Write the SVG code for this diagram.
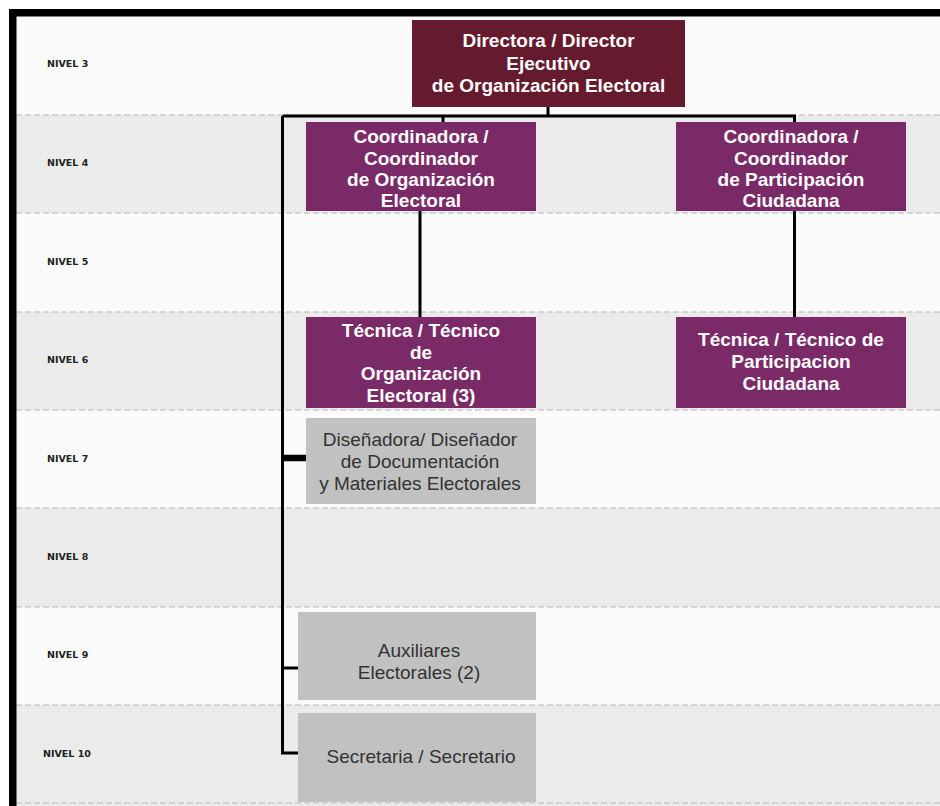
<svg xmlns="http://www.w3.org/2000/svg" width="940" height="806" viewBox="0 0 940 806">
<style>
.lvl{font-family:"DejaVu Sans",sans-serif;font-weight:bold;font-size:9.5px;fill:#222}
.bw{font-family:"Liberation Sans",Arial,sans-serif;font-weight:bold;font-size:19px;fill:#fff;text-anchor:middle}
.gt{font-family:"Liberation Sans",Arial,sans-serif;font-size:19px;fill:#333;text-anchor:middle}
.dash{stroke:#b8b8b8;stroke-width:1;stroke-dasharray:6 3;fill:none}
.band1{fill:#fafafa}
.band2{fill:#ebebeb}
.dir{fill:#661a2e}
.pur{fill:#7b2a68}
.gray{fill:#c1c1c1}
.con{stroke:#000;stroke-width:3;fill:none}
</style>
<rect x="0" y="0" width="940" height="806" fill="#fff"/>
<g id="bands">
<rect class="band1" x="16" y="17" width="924" height="98"/>
<rect class="band2" x="16" y="115" width="924" height="98"/>
<rect class="band1" x="16" y="213" width="924" height="99"/>
<rect class="band2" x="16" y="312" width="924" height="98"/>
<rect class="band1" x="16" y="410" width="924" height="98"/>
<rect class="band2" x="16" y="508" width="924" height="99"/>
<rect class="band1" x="16" y="607" width="924" height="98"/>
<rect class="band2" x="16" y="705" width="924" height="101"/>
<path class="dash" d="M16,115H940M16,213H940M16,312H940M16,410H940M16,508H940M16,607H940M16,705H940M16,803H940"/>
</g>
<path d="M12.75,806V12.75H940" stroke="#000" stroke-width="7.5" fill="none"/>
<g id="levels">
<text class="lvl" x="47" y="67">NIVEL 3</text>
<text class="lvl" x="47" y="166">NIVEL 4</text>
<text class="lvl" x="47" y="265">NIVEL 5</text>
<text class="lvl" x="47" y="363">NIVEL 6</text>
<text class="lvl" x="47" y="462">NIVEL 7</text>
<text class="lvl" x="47" y="560">NIVEL 8</text>
<text class="lvl" x="47" y="658">NIVEL 9</text>
<text class="lvl" x="43" y="757">NIVEL 10</text>
</g>
<g id="connectors">
<path class="con" d="M548,107V116M282.5,116H794.5V122M443,116V122"/>
<path class="con" d="M420,211V317M794.5,211V317"/>
<path class="con" d="M282.5,116V753H298M282.5,668H298"/>
<path d="M282.5,458H307" stroke="#000" stroke-width="6.5"/>
</g>
<g id="director">
<rect class="dir" x="412" y="20" width="273" height="87"/>
<text class="bw" x="548.5" y="47">Directora / Director</text>
<text class="bw" x="548.5" y="70">Ejecutivo</text>
<text class="bw" x="548.5" y="92">de Organización Electoral</text>
</g>
<g id="coord-org">
<rect class="pur" x="306" y="122" width="230" height="89"/>
<text class="bw" x="421" y="143">Coordinadora /</text>
<text class="bw" x="421" y="164.5">Coordinador</text>
<text class="bw" x="421" y="186">de Organización</text>
<text class="bw" x="421" y="207">Electoral</text>
</g>
<g id="coord-part">
<rect class="pur" x="676" y="122" width="230" height="89"/>
<text class="bw" x="791" y="143">Coordinadora /</text>
<text class="bw" x="791" y="164.5">Coordinador</text>
<text class="bw" x="791" y="186">de Participación</text>
<text class="bw" x="791" y="207">Ciudadana</text>
</g>
<g id="tec-org">
<rect class="pur" x="306" y="317" width="230" height="91"/>
<text class="bw" x="421" y="337">Técnica / Técnico</text>
<text class="bw" x="421" y="358.7">de</text>
<text class="bw" x="421" y="380.3">Organización</text>
<text class="bw" x="421" y="402">Electoral (3)</text>
</g>
<g id="tec-part">
<rect class="pur" x="676" y="317" width="230" height="91"/>
<text class="bw" x="791" y="346">Técnica / Técnico de</text>
<text class="bw" x="791" y="368">Participacion</text>
<text class="bw" x="791" y="390">Ciudadana</text>
</g>
<g id="disenador">
<rect class="gray" x="306" y="418" width="230" height="86"/>
<text class="gt" x="420" y="446">Diseñadora/ Diseñador</text>
<text class="gt" x="420" y="468">de Documentación</text>
<text class="gt" x="420" y="490">y Materiales Electorales</text>
</g>
<g id="auxiliares">
<rect class="gray" x="298" y="612" width="238" height="88"/>
<text class="gt" x="419" y="657">Auxiliares</text>
<text class="gt" x="419" y="679">Electorales (2)</text>
</g>
<g id="secretaria">
<rect class="gray" x="298" y="713" width="238" height="89"/>
<text class="gt" x="421" y="763">Secretaria / Secretario</text>
</g>
</svg>
